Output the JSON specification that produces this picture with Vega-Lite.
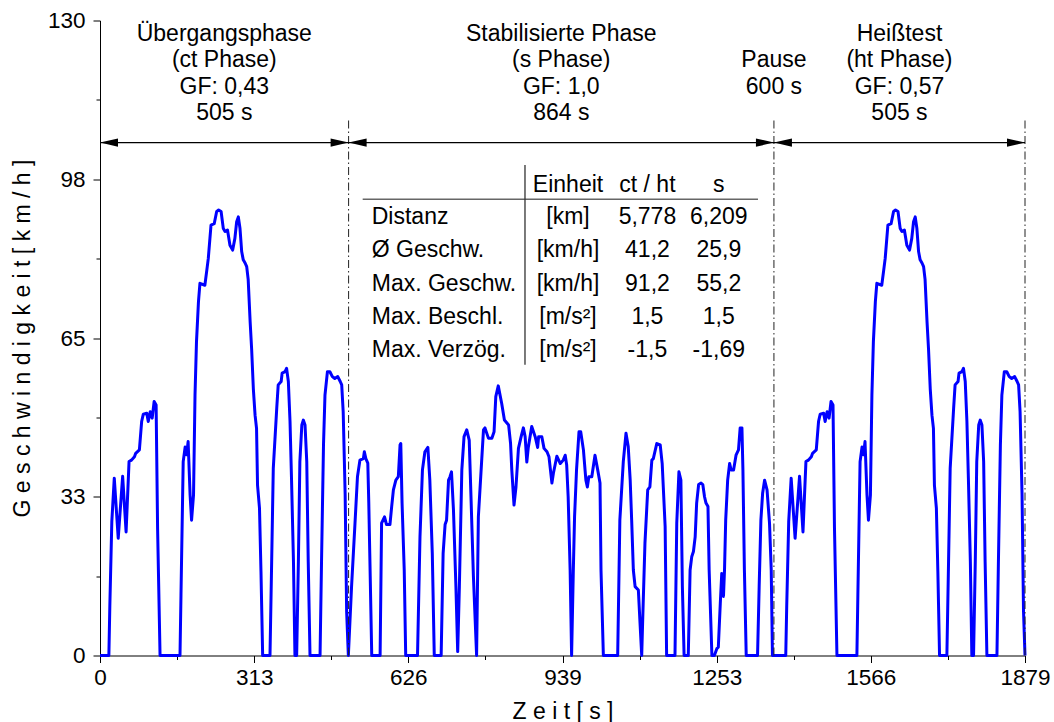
{
  "$schema": "https://vega.github.io/schema/vega-lite/v6.json",
  "width": 925,
  "height": 635,
  "autosize": "none",
  "padding": {"left": 100, "top": 20.5, "right": 29, "bottom": 66.5},
  "background": "white",
  "config": {
    "view": {"stroke": null},
    "font": "Liberation Sans",
    "text": {"font": "Liberation Sans", "color": "black"},
    "axis": {
      "grid": false,
      "domainColor": "black",
      "domainWidth": 1,
      "tickColor": "black",
      "tickWidth": 1,
      "labelColor": "black",
      "labelFont": "Liberation Sans",
      "labelFontSize": 22.5,
      "titleColor": "black",
      "titleFont": "Liberation Sans",
      "titleFontSize": 23,
      "titleFontWeight": "normal",
      "labelOverlap": false,
      "labelFlush": false
    }
  },
  "datasets": {
    "speed": [
      {"t":0,"v":0},{"t":18,"v":0},{"t":20,"v":10.3},{"t":24,"v":27.4},{"t":29,"v":36.3},{"t":37,"v":24.0},{"t":46,"v":36.7},{"t":53,"v":25.3},{"t":59,"v":39.7},{"t":64,"v":40.0},{"t":70,"v":40.7},{"t":72.5,"v":41.4},{"t":80,"v":42.1},{"t":84.6,"v":47.9},{"t":88,"v":49.4},{"t":95,"v":49.6},{"t":98,"v":47.9},{"t":102,"v":49.9},{"t":106,"v":48.6},{"t":110,"v":52.0},{"t":114,"v":51.3},{"t":117,"v":26.0},{"t":122,"v":0},{"t":162.5,"v":0},{"t":164.5,"v":12.4},{"t":169,"v":39.7},{"t":173,"v":42.7},{"t":176,"v":41.1},{"t":179,"v":43.8},{"t":183,"v":32.9},{"t":186,"v":27.7},{"t":190,"v":32.9},{"t":193,"v":53.3},{"t":196,"v":64.2},{"t":200,"v":72.4},{"t":203,"v":76.2},{"t":213,"v":75.8},{"t":217,"v":78.9},{"t":220,"v":81.3},{"t":225.5,"v":88.1},{"t":232,"v":88.4},{"t":237,"v":90.9},{"t":241,"v":91.2},{"t":246,"v":90.9},{"t":250.5,"v":87.4},{"t":254,"v":86.8},{"t":259,"v":87.1},{"t":264,"v":84.0},{"t":269.5,"v":83.0},{"t":274,"v":85.4},{"t":277.6,"v":88.8},{"t":281,"v":89.8},{"t":284.4,"v":87.4},{"t":287.8,"v":82.7},{"t":291,"v":81.0},{"t":295,"v":80.3},{"t":298,"v":79.6},{"t":301,"v":77.0},{"t":305,"v":68.3},{"t":308,"v":62.8},{"t":311.5,"v":54.6},{"t":315,"v":49.2},{"t":318,"v":46.5},{"t":320,"v":34.9},{"t":324,"v":30.1},{"t":327,"v":17.2},{"t":330.4,"v":0},{"t":345.3,"v":0},{"t":348.7,"v":19.2},{"t":352,"v":38.3},{"t":359,"v":50.6},{"t":362,"v":55.4},{"t":368,"v":56.1},{"t":370,"v":57.8},{"t":376,"v":58.1},{"t":379,"v":58.8},{"t":382.6,"v":56.1},{"t":386,"v":47.9},{"t":389,"v":36.3},{"t":393,"v":19.2},{"t":396,"v":0},{"t":399.5,"v":0},{"t":403,"v":19.2},{"t":406,"v":39.7},{"t":410,"v":47.2},{"t":413,"v":48.2},{"t":416.5,"v":47.2},{"t":420,"v":39.7},{"t":423,"v":19.2},{"t":426.6,"v":0},{"t":447,"v":0},{"t":450,"v":19.2},{"t":454,"v":43.1},{"t":457,"v":53.3},{"t":462,"v":58.1},{"t":467,"v":58.1},{"t":472,"v":57.1},{"t":477,"v":56.7},{"t":483,"v":57.1},{"t":488,"v":56.1},{"t":491,"v":55.4},{"t":494,"v":49.9},{"t":498,"v":32.9},{"t":501,"v":9.0},{"t":504.5,"v":0},
      {"t":511,"v":14.1},{"t":518,"v":27.1},{"t":523,"v":36.6},{"t":528,"v":40.0},{"t":535,"v":40.3},{"t":537,"v":41.7},{"t":540,"v":40.3},{"t":544,"v":39.4},{"t":546,"v":31.2},{"t":548,"v":20.9},{"t":552,"v":0},{"t":569,"v":0},{"t":572,"v":27.1},{"t":578,"v":28.4},{"t":582,"v":26.8},{"t":589,"v":26.8},{"t":592.5,"v":30.5},{"t":596,"v":33.9},{"t":601,"v":35.9},{"t":606,"v":36.6},{"t":609.5,"v":43.1},{"t":611,"v":43.4},{"t":613.6,"v":31.2},{"t":618,"v":17.5},{"t":621,"v":0},{"t":645,"v":0},{"t":650,"v":24.3},{"t":655,"v":38.0},{"t":660,"v":41.7},{"t":666,"v":42.6},{"t":670,"v":35.9},{"t":675,"v":20.9},{"t":679,"v":0},{"t":693,"v":0},{"t":697,"v":20.9},{"t":701,"v":26.8},{"t":704,"v":27.7},{"t":708,"v":35.9},{"t":711,"v":36.6},{"t":714,"v":37.6},{"t":718,"v":29.8},{"t":723,"v":14.1},{"t":726.6,"v":0.8},{"t":730,"v":14.1},{"t":735,"v":38.0},{"t":739.5,"v":44.8},{"t":745,"v":46.2},{"t":750,"v":44.1},{"t":754,"v":31.2},{"t":758.5,"v":16.3},{"t":765,"v":0},{"t":768.6,"v":28.4},{"t":779,"v":46.2},{"t":782,"v":46.6},{"t":789,"v":44.5},{"t":796,"v":44.5},{"t":800.5,"v":45.8},{"t":804,"v":53.0},{"t":809,"v":55.2},{"t":816,"v":51.6},{"t":821.5,"v":48.2},{"t":830,"v":47.2},{"t":834,"v":43.4},{"t":836.5,"v":38.0},{"t":841,"v":30.8},{"t":845,"v":34.5},{"t":850,"v":42.4},{"t":855.5,"v":44.8},{"t":860,"v":46.6},{"t":863.6,"v":44.8},{"t":867,"v":39.6},{"t":870,"v":42.6},{"t":877,"v":46.9},{"t":884,"v":44.8},{"t":889,"v":42.6},{"t":891,"v":44.8},{"t":897.5,"v":44.8},{"t":902,"v":42.4},{"t":908,"v":41.7},{"t":912,"v":40.7},{"t":918,"v":35.3},{"t":921,"v":37.3},{"t":928,"v":40.8},{"t":935,"v":39.3},{"t":941,"v":40.0},{"t":945,"v":41.0},{"t":948,"v":39.0},{"t":951,"v":32.5},{"t":955,"v":17.5},{"t":958,"v":0},{"t":961.5,"v":17.5},{"t":964,"v":28.4},{"t":968,"v":38.0},{"t":973,"v":45.8},{"t":976.5,"v":45.8},{"t":982,"v":42.1},{"t":987,"v":35.9},{"t":990,"v":34.5},{"t":993,"v":36.6},{"t":999,"v":36.6},{"t":1005.5,"v":41.0},{"t":1011,"v":38.0},{"t":1015.7,"v":35.3},{"t":1017.7,"v":17.5},{"t":1022.5,"v":0},{"t":1051.6,"v":0},{"t":1056,"v":27.7},{"t":1063,"v":39.7},{"t":1068.5,"v":45.5},{"t":1073,"v":42.8},{"t":1077,"v":35.9},{"t":1080,"v":27.7},{"t":1083.4,"v":17.5},{"t":1087,"v":14.1},{"t":1093.6,"v":13.4},{"t":1097,"v":6.6},{"t":1100.4,"v":0},{"t":1102.4,"v":7.3},{"t":1107,"v":23.0},{"t":1112.6,"v":33.9},{"t":1117,"v":34.5},{"t":1121,"v":40.0},{"t":1124,"v":40.3},{"t":1131,"v":43.4},{"t":1138,"v":43.1},{"t":1142,"v":39.3},{"t":1148,"v":26.4},{"t":1151,"v":0},{"t":1168,"v":0},{"t":1171.6,"v":27.1},{"t":1176,"v":37.6},{"t":1180,"v":35.9},{"t":1183,"v":14.1},{"t":1186.5,"v":0},{"t":1195,"v":0},{"t":1198.7,"v":17.5},{"t":1202,"v":20.2},{"t":1205.5,"v":21.3},{"t":1209,"v":24.3},{"t":1212,"v":31.2},{"t":1216,"v":35.0},{"t":1221,"v":35.3},{"t":1224.5,"v":35.0},{"t":1228,"v":32.5},{"t":1231,"v":31.2},{"t":1235,"v":30.5},{"t":1237.4,"v":17.5},{"t":1243,"v":0},{"t":1248,"v":0},{"t":1253,"v":1.4},{"t":1256,"v":1.7},{"t":1260,"v":10.6},{"t":1263,"v":16.8},{"t":1266.5,"v":12.1},{"t":1268.6,"v":17.5},{"t":1271,"v":27.7},{"t":1275,"v":35.9},{"t":1279,"v":39.3},{"t":1282,"v":38.0},{"t":1287,"v":38.0},{"t":1292,"v":41.0},{"t":1297,"v":42.1},{"t":1300.4,"v":46.6},{"t":1304,"v":46.6},{"t":1306,"v":38.0},{"t":1309,"v":17.5},{"t":1312.7,"v":0},{"t":1335.7,"v":0},{"t":1339,"v":14.1},{"t":1342.5,"v":27.7},{"t":1346,"v":33.2},{"t":1350,"v":35.9},{"t":1355,"v":33.9},{"t":1360,"v":27.1},{"t":1363.5,"v":17.5},{"t":1366,"v":0},
      {"t":1393,"v":0},{"t":1395,"v":10.3},{"t":1399,"v":27.4},{"t":1404,"v":36.3},{"t":1412,"v":24.0},{"t":1421,"v":36.7},{"t":1428,"v":25.3},{"t":1434,"v":39.7},{"t":1439,"v":40.0},{"t":1445,"v":40.7},{"t":1447.5,"v":41.4},{"t":1455,"v":42.1},{"t":1459.6,"v":47.9},{"t":1463,"v":49.4},{"t":1470,"v":49.6},{"t":1473,"v":47.9},{"t":1477,"v":49.9},{"t":1481,"v":48.6},{"t":1485,"v":52.0},{"t":1489,"v":51.3},{"t":1492,"v":26.0},{"t":1497,"v":0},{"t":1537.5,"v":0},{"t":1539.5,"v":12.4},{"t":1544,"v":39.7},{"t":1548,"v":42.7},{"t":1551,"v":41.1},{"t":1554,"v":43.8},{"t":1558,"v":32.9},{"t":1561,"v":27.7},{"t":1565,"v":32.9},{"t":1568,"v":53.3},{"t":1571,"v":64.2},{"t":1575,"v":72.4},{"t":1578,"v":76.2},{"t":1588,"v":75.8},{"t":1592,"v":78.9},{"t":1595,"v":81.3},{"t":1600.5,"v":88.1},{"t":1607,"v":88.4},{"t":1612,"v":90.9},{"t":1616,"v":91.2},{"t":1621,"v":90.9},{"t":1625.5,"v":87.4},{"t":1629,"v":86.8},{"t":1634,"v":87.1},{"t":1639,"v":84.0},{"t":1644.5,"v":83.0},{"t":1649,"v":85.4},{"t":1652.6,"v":88.8},{"t":1656,"v":89.8},{"t":1659.4,"v":87.4},{"t":1662.8,"v":82.7},{"t":1666,"v":81.0},{"t":1670,"v":80.3},{"t":1673,"v":79.6},{"t":1676,"v":77.0},{"t":1680,"v":68.3},{"t":1683,"v":62.8},{"t":1686.5,"v":54.6},{"t":1690,"v":49.2},{"t":1693,"v":46.5},{"t":1695,"v":34.9},{"t":1699,"v":30.1},{"t":1702,"v":17.2},{"t":1705.4,"v":0},{"t":1720.3,"v":0},{"t":1723.7,"v":19.2},{"t":1727,"v":38.3},{"t":1734,"v":50.6},{"t":1737,"v":55.4},{"t":1743,"v":56.1},{"t":1745,"v":57.8},{"t":1751,"v":58.1},{"t":1754,"v":58.8},{"t":1757.6,"v":56.1},{"t":1761,"v":47.9},{"t":1764,"v":36.3},{"t":1768,"v":19.2},{"t":1771,"v":0},{"t":1774.5,"v":0},{"t":1778,"v":19.2},{"t":1781,"v":39.7},{"t":1785,"v":47.2},{"t":1788,"v":48.2},{"t":1791.5,"v":47.2},{"t":1795,"v":39.7},{"t":1798,"v":19.2},{"t":1801.6,"v":0},{"t":1822,"v":0},{"t":1825,"v":19.2},{"t":1829,"v":43.1},{"t":1832,"v":53.3},{"t":1837,"v":58.1},{"t":1842,"v":58.1},{"t":1847,"v":57.1},{"t":1852,"v":56.7},{"t":1858,"v":57.1},{"t":1863,"v":56.1},{"t":1866,"v":55.4},{"t":1869,"v":49.9},{"t":1873,"v":32.9},{"t":1876,"v":9.0},{"t":1879,"v":0}
    ],
    "bounds": [{"t": 505}, {"t": 1369}, {"t": 1879}],
    "arrows": [
      {"t": 0, "dir": "left"}, {"t": 505, "dir": "right"},
      {"t": 505, "dir": "left"}, {"t": 1369, "dir": "right"},
      {"t": 1369, "dir": "left"}, {"t": 1879, "dir": "right"}
    ],
    "phases": [
      {"t": 252.5, "v": 125.8, "label": "Übergangsphase\n(ct Phase)\nGF: 0,43\n505 s"},
      {"t": 937, "v": 125.8, "label": "Stabilisierte Phase\n(s Phase)\nGF: 1,0\n864 s"},
      {"t": 1369, "v": 120.4, "label": "Pause\n600 s"},
      {"t": 1624, "v": 125.8, "label": "Heißtest\n(ht Phase)\nGF: 0,57\n505 s"}
    ],
    "table": [
      {"v": 94.95, "label": "", "unit": "Einheit", "ct": "ct / ht", "s": "s"},
      {"v": 88.34, "label": "Distanz", "unit": "[km]", "ct": "5,778", "s": "6,209"},
      {"v": 81.52, "label": "Ø Geschw.", "unit": "[km/h]", "ct": "41,2", "s": "25,9"},
      {"v": 74.68, "label": "Max. Geschw.", "unit": "[km/h]", "ct": "91,2", "s": "55,2"},
      {"v": 67.87, "label": "Max. Beschl.", "unit": "[m/s²]", "ct": "1,5", "s": "1,5"},
      {"v": 61.17, "label": "Max. Verzög.", "unit": "[m/s²]", "ct": "-1,5", "s": "-1,69"}
    ]
  },
  "layer": [
    {
      "data": {"name": "speed"},
      "mark": {"type": "line", "color": "#0000FF", "strokeWidth": 3, "strokeJoin": "round", "clip": false},
      "encoding": {
        "x": {
          "field": "t", "type": "quantitative",
          "scale": {"domain": [0, 1879], "nice": false, "zero": false},
          "axis": {
            "title": "Z e i t [ s ]",
            "values": [0, 156.5833, 313.1667, 469.75, 626.3333, 782.9167, 939.5, 1096.0833, 1252.6667, 1409.25, 1565.8333, 1722.4167, 1879],
            "labelExpr": "abs(datum.value/313.1667 - round(datum.value/313.1667)) > 0.1 ? '' : ['0','313','626','939','1253','1566','1879'][round(datum.value/313.1667)]",
            "tickSize": {"condition": {"test": "abs(datum.value/313.1667 - round(datum.value/313.1667)) > 0.1", "value": 4}, "value": 7},
            "labelPadding": 4,
            "titlePadding": 11
          }
        },
        "y": {
          "field": "v", "type": "quantitative",
          "scale": {"domain": [0, 130], "nice": false},
          "axis": {
            "title": "G e s c h w i n d i g k e i t [ k m / h ]",
            "values": [0, 16.25, 32.5, 48.75, 65, 81.25, 97.5, 113.75, 130],
            "labelExpr": "abs(datum.value/32.5 - round(datum.value/32.5)) > 0.1 ? '' : ['0','33','65','98','130'][round(datum.value/32.5)]",
            "tickSize": {"condition": {"test": "abs(datum.value/32.5 - round(datum.value/32.5)) > 0.1", "value": 4}, "value": 7},
            "labelPadding": 8,
            "titlePadding": 13
          }
        }
      }
    },
    {
      "data": {"name": "bounds"},
      "mark": {"type": "rule", "color": "#222222", "strokeWidth": 1, "strokeDash": [8, 3, 1.5, 3]},
      "encoding": {
        "x": {"field": "t", "type": "quantitative"},
        "y": {"datum": 0, "type": "quantitative"},
        "y2": {"datum": 110}
      }
    },
    {
      "data": {"values": [{"t": 0, "t2": 1879, "v": 105}]},
      "mark": {"type": "rule", "color": "black", "strokeWidth": 1.2},
      "encoding": {
        "x": {"field": "t", "type": "quantitative"},
        "x2": {"field": "t2"},
        "y": {"field": "v", "type": "quantitative"}
      }
    },
    {
      "data": {"name": "arrows"},
      "mark": {"type": "point", "filled": true, "color": "black", "opacity": 1, "size": 324, "strokeWidth": 0},
      "encoding": {
        "x": {"field": "t", "type": "quantitative"},
        "y": {"datum": 105, "type": "quantitative"},
        "shape": {
          "field": "dir", "type": "nominal", "legend": null,
          "scale": {"domain": ["left", "right"], "range": ["M0,0L2,-0.46L2,0.46Z", "M0,0L-2,-0.46L-2,0.46Z"]}
        }
      }
    },
    {
      "data": {"name": "phases"},
      "mark": {"type": "text", "align": "center", "baseline": "alphabetic", "fontSize": 23, "lineBreak": "\n", "lineHeight": 26.4, "color": "black"},
      "encoding": {
        "x": {"field": "t", "type": "quantitative"},
        "y": {"field": "v", "type": "quantitative"},
        "text": {"field": "label"}
      }
    },
    {
      "data": {"name": "table"},
      "mark": {"type": "text", "align": "left", "baseline": "alphabetic", "fontSize": 23, "color": "black"},
      "encoding": {
        "x": {"datum": 552, "type": "quantitative"},
        "y": {"field": "v", "type": "quantitative"},
        "text": {"field": "label"}
      }
    },
    {
      "data": {"name": "table"},
      "mark": {"type": "text", "align": "center", "baseline": "alphabetic", "fontSize": 23, "color": "black"},
      "encoding": {
        "x": {"datum": 950.7, "type": "quantitative"},
        "y": {"field": "v", "type": "quantitative"},
        "text": {"field": "unit"}
      }
    },
    {
      "data": {"name": "table"},
      "mark": {"type": "text", "align": "center", "baseline": "alphabetic", "fontSize": 23, "color": "black"},
      "encoding": {
        "x": {"datum": 1112, "type": "quantitative"},
        "y": {"field": "v", "type": "quantitative"},
        "text": {"field": "ct"}
      }
    },
    {
      "data": {"name": "table"},
      "mark": {"type": "text", "align": "center", "baseline": "alphabetic", "fontSize": 23, "color": "black"},
      "encoding": {
        "x": {"datum": 1257, "type": "quantitative"},
        "y": {"field": "v", "type": "quantitative"},
        "text": {"field": "s"}
      }
    },
    {
      "data": {"values": [{"t": 533.6, "t2": 1336.6, "v": 93.4}]},
      "mark": {"type": "rule", "color": "#666666", "strokeWidth": 1.5},
      "encoding": {
        "x": {"field": "t", "type": "quantitative"},
        "x2": {"field": "t2"},
        "y": {"field": "v", "type": "quantitative"}
      }
    },
    {
      "data": {"values": [{"t": 863.3, "v": 59.5, "v2": 100.4}]},
      "mark": {"type": "rule", "color": "#333333", "strokeWidth": 1.3},
      "encoding": {
        "x": {"field": "t", "type": "quantitative"},
        "y": {"field": "v", "type": "quantitative"},
        "y2": {"field": "v2"}
      }
    }
  ]
}
